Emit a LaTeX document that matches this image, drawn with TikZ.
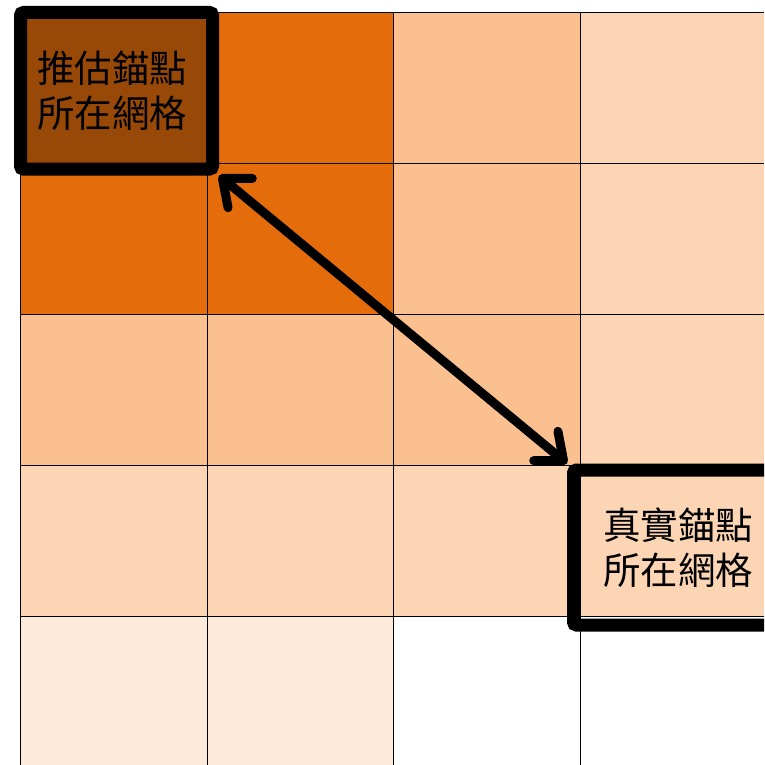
\documentclass[tikz,border=0pt]{standalone}
\usepackage{fontspec}
\newfontfamily\cjk{Noto Sans CJK TC}
\usetikzlibrary{arrows.meta}
\definecolor{cBrown}{HTML}{984807}
\definecolor{cOrange}{HTML}{E46C0A}
\definecolor{cFortyL}{HTML}{FAC090}
\definecolor{cSixtyL}{HTML}{FCD5B5}
\definecolor{cEightyL}{HTML}{FDEADA}
\begin{document}
\begin{tikzpicture}[x=1pt,y=-1pt,
  gridline/.style={line width=0.9pt, draw=black},
  anchorbox/.style={rectangle, draw=black, line width=13pt, rounded corners=3pt, inner sep=0pt,
    font=\cjk\fontsize{37.5}{45}\selectfont, align=center, text=black},
  linkarrow/.style={line width=9pt, draw=black,
    {Straight Barb[length=23pt,width=38pt,round]}-{Straight Barb[length=23pt,width=38pt,round]}}]
\useasboundingbox (0,0) rectangle (764,765);
\clip (0,0) rectangle (764,765);
% row 0
\fill[cBrown] (20,12) rectangle (207,163);
\fill[cOrange] (207,12) rectangle (393,163);
\fill[cFortyL] (393,12) rectangle (580,163);
\fill[cSixtyL] (580,12) rectangle (764,163);
% row 1
\fill[cOrange] (20,163) rectangle (393,314);
\fill[cFortyL] (393,163) rectangle (580,314);
\fill[cSixtyL] (580,163) rectangle (764,314);
% row 2
\fill[cFortyL] (20,314) rectangle (580,465);
\fill[cSixtyL] (580,314) rectangle (764,465);
% row 3
\fill[cSixtyL] (20,465) rectangle (764,616);
% row 4
\fill[cEightyL] (20,616) rectangle (393,765);
% grid lines
\foreach \yy in {12,163,314,465,616} \draw[gridline] (20,\yy) -- (764,\yy);
\foreach \xx in {20,207,393,580} \draw[gridline] (\xx,12) -- (\xx,765);
% boxes
\node[anchorbox, fill=cBrown, minimum width=192pt, minimum height=156.5pt] (est) at (116.5,90.75) {\hspace*{-9pt}推估錨點\\\hspace*{-9pt}所在網格};
\node[anchorbox, minimum width=209.5pt, minimum height=155pt] (true) at (678.25,547.5) {真實錨點\\所在網格};
% arrow
\draw[linkarrow] (est.south east) -- (true.north west);
\end{tikzpicture}
\end{document}
